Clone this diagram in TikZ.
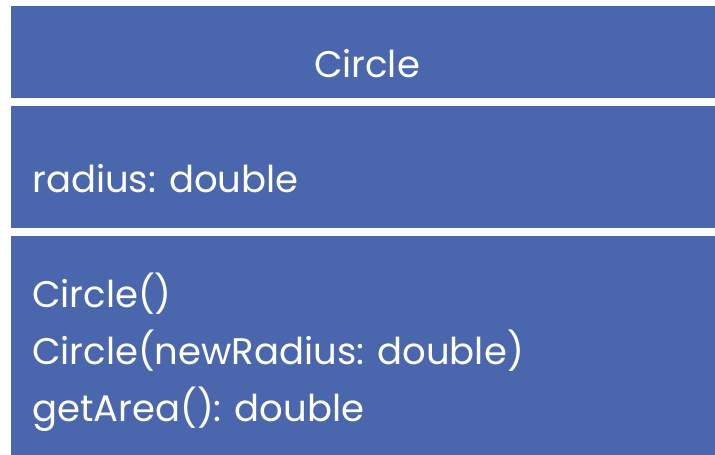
\documentclass[tikz,border=0pt]{standalone}
\usepackage{fontspec}
\setmainfont{Poppins}
\definecolor{umlblue}{RGB}{74,103,174}
\begin{document}
\begin{tikzpicture}[x=1pt,y=-1pt,
  band/.style={fill=umlblue,draw=none},
  txt/.style={text=white,inner sep=0pt,anchor=base west,font=\fontsize{37}{44}\selectfont},
  hdr/.style={text=white,inner sep=0pt,anchor=base,font=\fontsize{37}{44}\selectfont}]
\useasboundingbox (0,0) rectangle (715,455);
\fill[white] (0,0) rectangle (715,455);
\fill[band] (11,6) rectangle (715,98);
\fill[band] (11,106) rectangle (715,228);
\fill[band] (11,236) rectangle (715,455);
\node[hdr] (name) at (367,77) {Circle};
\node[txt] (attr) at (32,192) {radius: double};
\node[txt] (op1) at (32,307) {Circle()};
\node[txt] (op2) at (32,364) {Circle(newRadius: double)};
\node[txt] (op3) at (32,421) {getArea(): double};
\end{tikzpicture}
\end{document}
